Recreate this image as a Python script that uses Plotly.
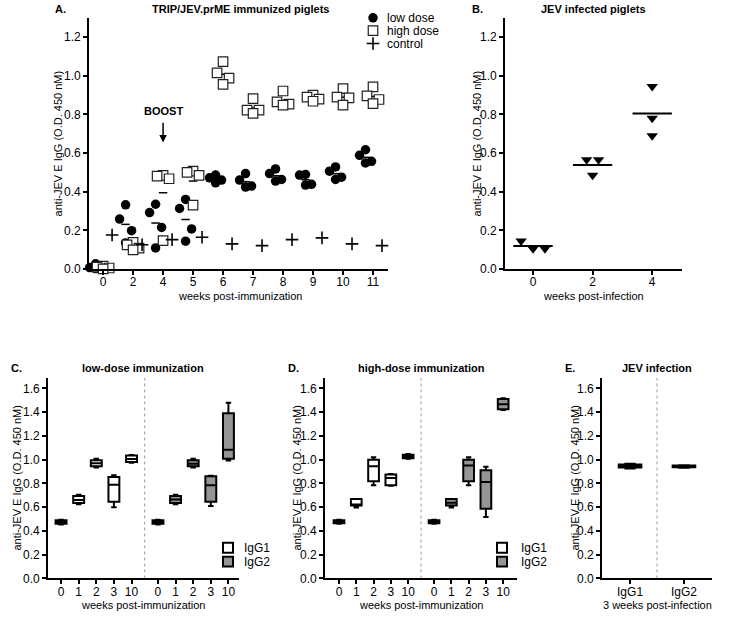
import numpy as np
import plotly.graph_objects as go

# ---------------- data ----------------
weeks_A = ["0", "2", "4", "5", "6", "7", "8", "9", "10", "11"]
low_dose = [
    [0.007, 0.002, 0.027, 0.007],
    [0.332, 0.258, 0.198, 0.135],
    [0.335, 0.292, 0.215, 0.109],
    [0.360, 0.313, 0.207, 0.144],
    [0.486, 0.472, 0.460, 0.446],
    [0.494, 0.460, 0.429, 0.424],
    [0.518, 0.494, 0.463, 0.455],
    [0.489, 0.486, 0.438, 0.434],
    [0.528, 0.506, 0.475, 0.463],
    [0.617, 0.588, 0.557, 0.549],
]
high_dose = [
    [0.015, 0.010, 0.005, 0.000],
    [0.138, 0.125, 0.108, 0.099],
    [0.484, 0.480, 0.467, 0.147],
    [0.506, 0.500, 0.484, 0.330],
    [1.073, 1.015, 0.988, 0.955],
    [0.882, 0.822, 0.822, 0.805],
    [0.921, 0.865, 0.853, 0.848],
    [0.900, 0.889, 0.879, 0.868],
    [0.933, 0.889, 0.886, 0.848],
    [0.942, 0.896, 0.877, 0.856],
]
control = [0.176, 0.125, 0.152, 0.164, 0.130, 0.121, 0.152, 0.161, 0.130, 0.121]

weeks_B = ["0", "2", "4"]
jev_infected = [
    [0.145, 0.105, 0.105],
    [0.565, 0.565, 0.485],
    [0.945, 0.780, 0.690],
]

weeks_box = ["0", "1", "2", "3", "10"]
# low-dose (panel C)
C_igg1_lo = [0.455, 0.625, 0.935, 0.600, 0.975]
C_igg1_q1 = [0.460, 0.635, 0.945, 0.645, 0.980]
C_igg1_md = [0.475, 0.660, 0.970, 0.790, 1.005]
C_igg1_q3 = [0.490, 0.695, 0.995, 0.855, 1.035]
C_igg1_hi = [0.495, 0.705, 1.008, 0.870, 1.040]
C_igg2_lo = [0.455, 0.625, 0.935, 0.610, 0.994]
C_igg2_q1 = [0.460, 0.635, 0.945, 0.645, 1.008]
C_igg2_md = [0.475, 0.665, 0.965, 0.785, 1.083]
C_igg2_q3 = [0.490, 0.695, 0.995, 0.860, 1.390]
C_igg2_hi = [0.495, 0.705, 1.008, 0.865, 1.480]
# high-dose (panel D)
D_igg1_lo = [0.460, 0.597, 0.785, 0.780, 1.008]
D_igg1_q1 = [0.465, 0.615, 0.818, 0.785, 1.012]
D_igg1_md = [0.475, 0.620, 0.944, 0.845, 1.028]
D_igg1_q3 = [0.490, 0.670, 1.000, 0.875, 1.042]
D_igg1_hi = [0.495, 0.670, 1.020, 0.880, 1.047]
D_igg2_lo = [0.460, 0.597, 0.785, 0.517, 1.419]
D_igg2_q1 = [0.465, 0.615, 0.818, 0.587, 1.425]
D_igg2_md = [0.475, 0.637, 0.950, 0.813, 1.466]
D_igg2_q3 = [0.490, 0.670, 1.000, 0.910, 1.510]
D_igg2_hi = [0.495, 0.670, 1.020, 0.940, 1.517]
# JEV infection (panel E)
E_labels = ["IgG1", "IgG2"]
E_lo = [0.925, 0.932]
E_q1 = [0.935, 0.937]
E_md = [0.950, 0.945]
E_q3 = [0.960, 0.950]
E_hi = [0.966, 0.953]

# ---------------- layout helpers ----------------
FW, FH = 733, 626
FONT = "Liberation Sans, Arial, sans-serif"


def px(x):
    return x / FW


def py(y):
    return 1 - y / FH


DIAMOND = [0.0, -0.2, 0.2, 0.0]


def diamond_offsets(values, centre):
    order = np.argsort(-np.array(values), kind="stable")
    xs = [0.0] * len(values)
    for rank, idx in enumerate(order):
        xs[idx] = centre + DIAMOND[rank % 4]
    return xs


def row_swarm(values, centre, step=0.2, thresh=0.046):
    order = list(np.argsort(-np.array(values), kind="stable"))
    rows, cur = [], [order[0]]
    for idx in order[1:]:
        if values[cur[-1]] - values[idx] < thresh:
            cur.append(idx)
        else:
            rows.append(cur)
            cur = [idx]
    rows.append(cur)
    xs = [0.0] * len(values)
    for row in rows:
        n = len(row)
        for k, idx in enumerate(row):
            xs[idx] = centre + (k - (n - 1) / 2) * step
    return xs


fig = go.Figure()

# ---------------- Panel A ----------------
BASE_LOW, BASE_HIGH, BASE_CTRL = -0.25, 0.0, 0.3
mx, my = [], []
for i in range(len(weeks_A)):
    mx += [i + BASE_LOW, i + BASE_HIGH]
    my += [float(np.mean(low_dose[i])), float(np.mean(high_dose[i]))]
fig.add_trace(go.Scatter(x=mx, y=my, mode="markers", xaxis="x", yaxis="y",
                         marker=dict(symbol="line-ew", size=6, line=dict(color="black", width=1.5)),
                         showlegend=False, cliponaxis=False, hoverinfo="skip"))

lx, ly, hx, hy = [], [], [], []
for i in range(len(weeks_A)):
    lx += diamond_offsets(low_dose[i], i + BASE_LOW)
    ly += low_dose[i]
    hx += diamond_offsets(high_dose[i], i + BASE_HIGH)
    hy += high_dose[i]
fig.add_trace(go.Scatter(x=lx, y=ly, mode="markers", xaxis="x", yaxis="y",
                         marker=dict(symbol="circle", size=9.5, color="black"),
                         showlegend=False, cliponaxis=False))
fig.add_trace(go.Scatter(x=hx, y=hy, mode="markers", xaxis="x", yaxis="y",
                         marker=dict(symbol="square", size=9.5, color="white",
                                     line=dict(color="#222", width=1.2)),
                         showlegend=False, cliponaxis=False))
fig.add_trace(go.Scatter(x=[i + BASE_CTRL for i in range(len(weeks_A))], y=control,
                         mode="markers", xaxis="x", yaxis="y",
                         marker=dict(symbol="cross-thin", size=9, line=dict(color="black", width=1.6)),
                         showlegend=False, cliponaxis=False))

# ---------------- Panel B ----------------
bx, by, mlx, mly = [], [], [], []
for i in range(len(weeks_B)):
    bx += row_swarm(jev_infected[i], i)
    by += jev_infected[i]
    m = float(np.mean(jev_infected[i]))
    mlx += [i - 0.33, i + 0.33, None]
    mly += [m, m, None]
fig.add_trace(go.Scatter(x=mlx, y=mly, mode="lines", xaxis="x2", yaxis="y2",
                         line=dict(color="black", width=2), showlegend=False, hoverinfo="skip"))
fig.add_trace(go.Scatter(x=bx, y=by, mode="markers", xaxis="x2", yaxis="y2",
                         marker=dict(symbol="triangle-down", size=10, color="black"),
                         showlegend=False, cliponaxis=False))

# ---------------- Box panels ----------------
GRAY = "#959595"
pos1 = list(range(len(weeks_box)))
pos2 = [p + 5.5 for p in pos1]


def add_box(xa, ya, pos, lo, q1, md, q3, hi, fill, width):
    fig.add_trace(go.Box(x=pos, lowerfence=lo, q1=q1, median=md, q3=q3, upperfence=hi,
                         xaxis=xa, yaxis=ya, fillcolor=fill, width=width, whiskerwidth=0.5,
                         line=dict(color="black", width=2), showlegend=False, boxpoints=False))


add_box("x3", "y3", pos1, C_igg1_lo, C_igg1_q1, C_igg1_md, C_igg1_q3, C_igg1_hi, "white", 0.62)
add_box("x3", "y3", pos2, C_igg2_lo, C_igg2_q1, C_igg2_md, C_igg2_q3, C_igg2_hi, GRAY, 0.62)
add_box("x4", "y4", pos1, D_igg1_lo, D_igg1_q1, D_igg1_md, D_igg1_q3, D_igg1_hi, "white", 0.62)
add_box("x4", "y4", pos2, D_igg2_lo, D_igg2_q1, D_igg2_md, D_igg2_q3, D_igg2_hi, GRAY, 0.62)
add_box("x5", "y5", [0], [E_lo[0]], [E_q1[0]], [E_md[0]], [E_q3[0]], [E_hi[0]], "white", 0.42)
add_box("x5", "y5", [1], [E_lo[1]], [E_q1[1]], [E_md[1]], [E_q3[1]], [E_hi[1]], GRAY, 0.42)

# ---------------- legend markers for A (pixel overlay axes) ----------------
fig.add_trace(go.Scatter(x=[373], y=[18], mode="markers", xaxis="x6", yaxis="y6",
                         marker=dict(symbol="circle", size=9.5, color="black"),
                         showlegend=False, hoverinfo="skip"))
fig.add_trace(go.Scatter(x=[373], y=[31], mode="markers", xaxis="x6", yaxis="y6",
                         marker=dict(symbol="square", size=9.5, color="white", line=dict(color="#222", width=1.2)),
                         showlegend=False, hoverinfo="skip"))
fig.add_trace(go.Scatter(x=[373], y=[44], mode="markers", xaxis="x6", yaxis="y6",
                         marker=dict(symbol="cross-thin", size=9, line=dict(color="black", width=1.6)),
                         showlegend=False, hoverinfo="skip"))

# ---------------- axes ----------------
axis_common = dict(showline=True, linecolor="black", linewidth=1.6, ticks="outside", ticklen=4,
                   tickwidth=1.5, tickcolor="black", showgrid=False, zeroline=False,
                   tickfont=dict(size=12, color="black", family=FONT), fixedrange=True)
xaxis_extra = dict(ticklabelstandoff=-3)

yA = [py(272), py(18)]
yC = [py(585), py(382)]
ticks_A = [0, 0.2, 0.4, 0.6, 0.8, 1.0, 1.2]
ticks_C = [0, 0.2, 0.4, 0.6, 0.8, 1.0, 1.2, 1.4, 1.6]

fig.update_layout(
    width=FW, height=FH, margin=dict(l=0, r=0, t=0, b=0),
    paper_bgcolor="white", plot_bgcolor="rgba(0,0,0,0)",
    showlegend=False, boxmode="overlay",
    font=dict(family=FONT, color="black"),
    xaxis=dict(axis_common, **xaxis_extra, domain=[px(89), px(388)], range=[-0.47, 9.5],
               tickvals=list(range(len(weeks_A))), ticktext=weeks_A, anchor="y"),
    yaxis=dict(axis_common, domain=yA, range=[0, 1.3], tickvals=ticks_A, tickformat=".1f", anchor="x"),
    xaxis2=dict(axis_common, **xaxis_extra, domain=[px(505), px(682)], range=[-0.47, 2.5],
                tickvals=list(range(len(weeks_B))), ticktext=weeks_B, anchor="y2"),
    yaxis2=dict(axis_common, domain=yA, range=[0, 1.3], tickvals=ticks_A, tickformat=".1f", anchor="x2"),
    xaxis3=dict(axis_common, **xaxis_extra, domain=[px(48), px(239)], range=[-0.74, 10.1],
                tickvals=pos1 + pos2, ticktext=weeks_box + weeks_box, anchor="y3"),
    yaxis3=dict(axis_common, domain=yC, range=[0, 1.69], tickvals=ticks_C, tickformat=".1f", anchor="x3"),
    xaxis4=dict(axis_common, **xaxis_extra, domain=[px(325), px(517)], range=[-0.81, 10.3],
                tickvals=pos1 + pos2, ticktext=weeks_box + weeks_box, anchor="y4"),
    yaxis4=dict(axis_common, domain=yC, range=[0, 1.69], tickvals=ticks_C, tickformat=".1f", anchor="x4"),
    xaxis5=dict(axis_common, **xaxis_extra, domain=[px(602), px(712)], range=[-0.52, 1.52],
                tickvals=[0, 1], ticktext=E_labels, anchor="y5"),
    yaxis5=dict(axis_common, domain=yC, range=[0, 1.69], tickvals=ticks_C, tickformat=".1f", anchor="x5"),
    xaxis6=dict(domain=[0, 1], range=[0, FW], visible=False, fixedrange=True, anchor="y6"),
    yaxis6=dict(domain=[0, 1], range=[FH, 0], visible=False, fixedrange=True, anchor="x6"),
)

# divider lines
for xa, ya, xv in [("x3", "y3", 4.75), ("x4", "y4", 4.75), ("x5", "y5", 0.5)]:
    fig.add_shape(type="line", xref=xa, yref=ya, x0=xv, x1=xv, y0=0, y1=1.69,
                  line=dict(color="#999", width=1, dash="dot"))

# box legends
for cx, tx in [(228, 242), (502, 519)]:
    for yy, fill, lab in [(554, "white", "IgG1"), (568, GRAY, "IgG2")]:
        fig.add_shape(type="rect", xref="paper", yref="paper",
                      x0=px(cx - 5), x1=px(cx + 5), y0=py(yy + 5), y1=py(yy - 5),
                      fillcolor=fill, line=dict(color="black", width=2))
        fig.add_annotation(x=px(tx), y=py(yy), xref="paper", yref="paper", text=lab,
                           showarrow=False, xanchor="left", yanchor="middle",
                           font=dict(size=12, family=FONT, color="black"))

# legend text A
for yy, lab in [(18, "low dose"), (31, "high dose"), (44, "control")]:
    fig.add_annotation(x=px(385), y=py(yy), xref="paper", yref="paper", text=lab,
                       showarrow=False, xanchor="left", yanchor="middle",
                       font=dict(size=12, family=FONT, color="black"))


def txt(x, y, s, size=11, bold=False, anchor="center", angle=0):
    fig.add_annotation(x=px(x), y=py(y), xref="paper", yref="paper",
                       text=f"<b>{s}</b>" if bold else s, showarrow=False,
                       xanchor=anchor, yanchor="middle", textangle=angle,
                       font=dict(size=size, family=FONT, color="black"))


# panel letters and titles
txt(53, 9, "A.", bold=True, anchor="left")
txt(240, 9, "TRIP/JEV.prME immunized piglets", bold=True)
txt(470, 9, "B.", bold=True, anchor="left")
txt(593, 9, "JEV infected piglets", bold=True)
txt(9, 372, "C.", bold=True, anchor="left")
txt(143, 372, "low-dose immunization", bold=True)
txt(286, 372, "D.", bold=True, anchor="left")
txt(421, 372, "high-dose immunization", bold=True)
txt(563, 372, "E.", bold=True, anchor="left")
txt(657, 372, "JEV infection", bold=True)

# axis titles
YT = "anti-JEV E IgG (O.D. 450 nM)"
txt(58, 145, YT, angle=-90)
txt(477, 145, YT, angle=-90)
txt(17, 483, YT, angle=-90)
txt(297, 483, YT, angle=-90)
txt(575, 483, YT, angle=-90)
txt(240, 299, "weeks post-immunization")
txt(593, 299, "weeks post-infection")
txt(143, 612, "weeks post-immunization")
txt(421, 612, "weeks post-immunization")
txt(657, 612, "3 weeks post-infection")

# BOOST annotation with arrow
fig.add_annotation(x=2, y=0.82, xref="x", yref="y", text="<b>BOOST</b>", showarrow=False,
                   font=dict(size=11, family=FONT, color="black"))
fig.add_annotation(x=2, y=0.655, xref="x", yref="y", ax=2, ay=0.765, axref="x", ayref="y",
                   text="", showarrow=True, arrowhead=2, arrowsize=1, arrowwidth=1.5,
                   arrowcolor="black")

fig.write_html("out.html", config={"displayModeBar": False},
               post_script="document.body.style.margin='0';")
